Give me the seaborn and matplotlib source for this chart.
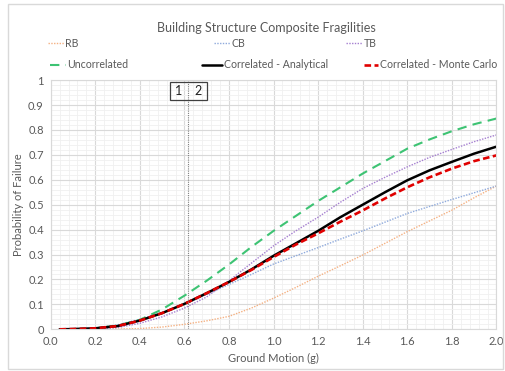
import matplotlib
matplotlib.use("Agg")
import matplotlib.pyplot as plt
import matplotlib.patches as mpatches
from matplotlib.lines import Line2D
from matplotlib.ticker import MultipleLocator
import seaborn as sns

# ground motion (g)
ground = [0.04, 0.1, 0.2, 0.3, 0.4, 0.5, 0.6, 0.7, 0.8, 0.9, 1.0,
          1.1, 1.2, 1.3, 1.4, 1.5, 1.6, 1.7, 1.8, 1.9, 2.0]

rb = [0.0, 0.0, 0.0, 0.001, 0.003, 0.009, 0.02, 0.034, 0.052, 0.085, 0.125,
      0.168, 0.213, 0.255, 0.298, 0.345, 0.392, 0.435, 0.478, 0.528, 0.575]
cb = [0.0, 0.0005, 0.005, 0.018, 0.04, 0.068, 0.1, 0.14, 0.18, 0.22, 0.262,
      0.295, 0.328, 0.362, 0.395, 0.43, 0.465, 0.493, 0.521, 0.548, 0.575]
tb = [0.0, 0.0, 0.001, 0.007, 0.024, 0.05, 0.085, 0.13, 0.195, 0.265, 0.335,
      0.395, 0.45, 0.51, 0.565, 0.61, 0.652, 0.69, 0.722, 0.753, 0.78]
uncorrelated = [0.0, 0.0005, 0.004, 0.015, 0.038, 0.08, 0.135, 0.195, 0.26, 0.33, 0.395,
                0.455, 0.515, 0.57, 0.625, 0.675, 0.725, 0.762, 0.795, 0.823, 0.846]
analytical = [0.0, 0.001, 0.004, 0.013, 0.035, 0.065, 0.102, 0.145, 0.19, 0.24, 0.295,
              0.345, 0.395, 0.45, 0.5, 0.55, 0.598, 0.638, 0.672, 0.705, 0.733]
monte_carlo = [0.0, 0.001, 0.004, 0.013, 0.035, 0.065, 0.102, 0.145, 0.19, 0.238, 0.29,
               0.34, 0.385, 0.432, 0.477, 0.525, 0.57, 0.61, 0.645, 0.675, 0.698]

boundary = 0.615  # dividing line between zones 1 and 2

series = [
    ("RB", rb, "#F4B183", (0, (1, 1)), 1.0),
    ("CB", cb, "#8FAADC", (0, (1, 1)), 1.0),
    ("TB", tb, "#A57FD0", (0, (1, 1)), 1.0),
    ("Uncorrelated", uncorrelated, "#3DC373", (0, (4.5, 3)), 1.5),
    ("Correlated - Analytical", analytical, "#000000", "-", 1.8),
    ("Correlated - Monte Carlo", monte_carlo, "#E00000", (0, (2.5, 1.3)), 1.9),
]

sns.set_style("white")
plt.rcParams["font.family"] = ["Lato", "DejaVu Sans"]
text_color = "#595959"

fig = plt.figure(figsize=(5.05, 3.71), dpi=100)
ax = fig.add_axes([0.1004, 0.1124, 0.8826, 0.6716])

for name, vals, color, ls, lw in series:
    sns.lineplot(x=ground, y=vals, ax=ax, color=color, linestyle=ls, linewidth=lw)

ax.axvline(boundary, color="#7F7F7F", linestyle=(0, (1, 1)), linewidth=0.8)
ax.add_patch(mpatches.Rectangle((0.535, 0.922), 0.165, 0.07, fill=False,
                                edgecolor="#404040", linewidth=0.9, zorder=5))
ax.text(0.575, 0.956, "1", ha="center", va="center", fontsize=9, color="#202020")
ax.text(0.66, 0.956, "2", ha="center", va="center", fontsize=9, color="#202020")

ax.set_xlim(0, 2.0)
ax.set_ylim(0, 1)
ax.xaxis.set_minor_locator(MultipleLocator(0.04))
ax.yaxis.set_minor_locator(MultipleLocator(0.02))
ax.set_xticks([i * 0.2 for i in range(11)])
ax.set_xticklabels([f"{i * 0.2:.1f}" for i in range(11)])
ax.set_yticks([i / 10 for i in range(11)])
ax.set_yticklabels(["0"] + [f"{i / 10:.1f}" for i in range(1, 10)] + ["1"])
ax.grid(which="major", color="#D9D9D9", linewidth=0.8)
ax.grid(which="minor", color="#F0F0F0", linewidth=0.6)
ax.set_axisbelow(True)
ax.tick_params(which="both", length=0, labelsize=8, labelcolor=text_color, pad=5)
for sp in ax.spines.values():
    sp.set_color("#D9D9D9")
    sp.set_linewidth(0.8)

ax.set_xlabel("Ground Motion (g)", fontsize=8, color=text_color, labelpad=4)
ax.set_ylabel("Probability of Failure", fontsize=8, color=text_color, labelpad=3)

fig.text(0.528, 0.925, "Building Structure Composite Fragilities",
         ha="center", va="center", fontsize=9, color=text_color)

# legend entries placed like the spreadsheet legend: (x, y, handle length)
legend_fs = 7.6
legend_pos = [(0.095, 0.884, 1.5), (0.424, 0.884, 1.5), (0.685, 0.884, 1.5),
              (0.099, 0.825, 1.5), (0.400, 0.825, 1.9), (0.721, 0.825, 1.35)]
for (name, vals, color, ls, lw), (px, py, hl) in zip(series, legend_pos):
    h = Line2D([], [], color=color, linestyle=ls, linewidth=lw)
    fig.legend([h], [name], loc="center left", bbox_to_anchor=(px, py), frameon=False,
               fontsize=legend_fs, handlelength=hl, handletextpad=0.15,
               borderpad=0, borderaxespad=0, labelcolor=text_color)

fig.add_artist(mpatches.Rectangle((0.016, 0.005), 0.98, 0.984, transform=fig.transFigure,
                                  fill=False, edgecolor="#D9D9D9", linewidth=1.0))

fig.savefig("out.png", dpi=100)
plt.close(fig)
